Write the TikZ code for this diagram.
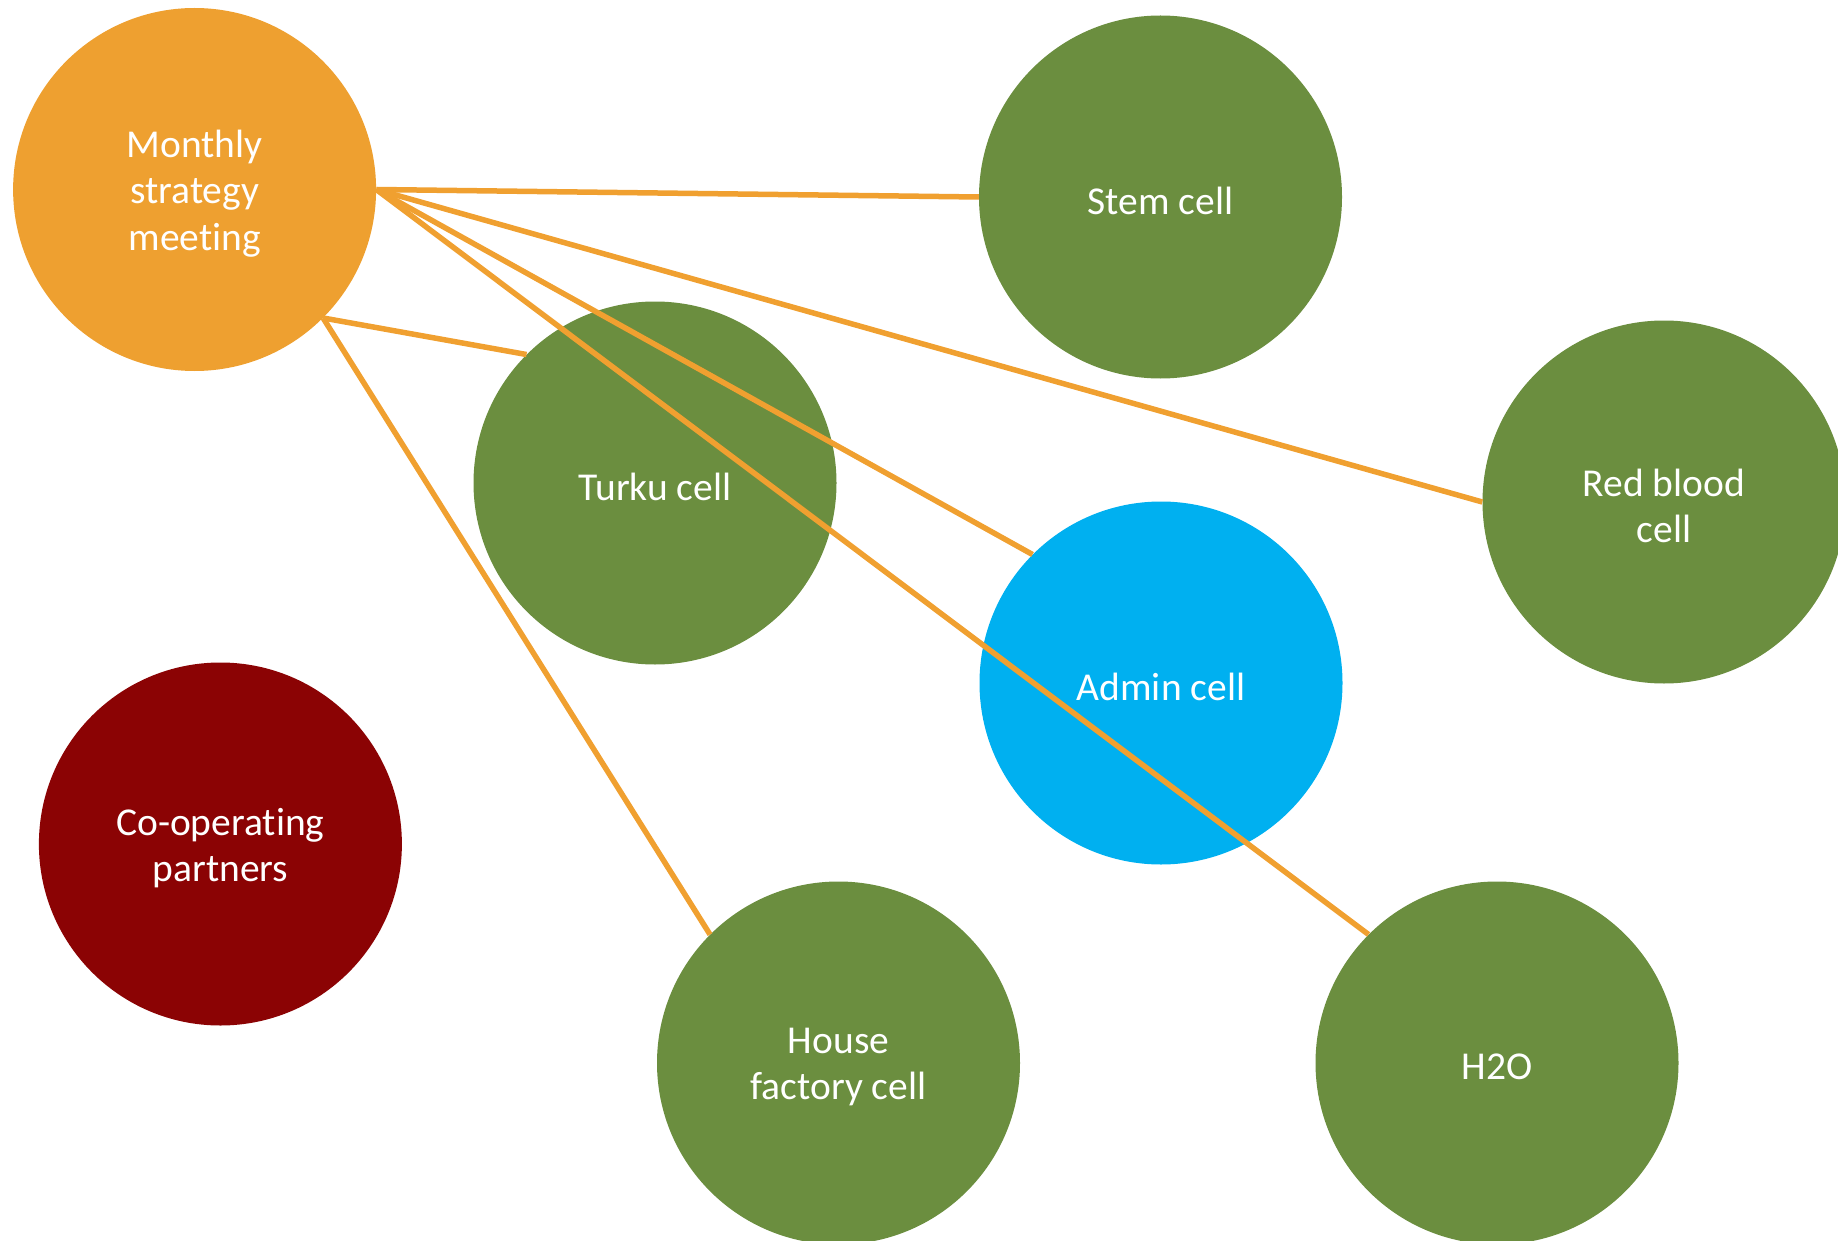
\documentclass[tikz,border=0pt]{standalone}
\usepackage{fontspec}
\setmainfont{Carlito}[Ligatures=NoCommon]
\definecolor{orangec}{HTML}{EEA030}
\definecolor{linec}{HTML}{F0A030}
\definecolor{greenc}{HTML}{6B8E3F}
\definecolor{bluec}{HTML}{00B0F0}
\definecolor{redc}{HTML}{8B0304}
\begin{document}
\begin{tikzpicture}[x=1pt,y=-1pt,
  cell/.style={circle,minimum size=363pt,inner sep=0pt},
  lbl/.style={text=white,align=center,font=\fontsize{39.5}{46.5}\selectfont},
  link/.style={draw=linec,line width=5.5pt}]
\useasboundingbox (0,0) rectangle (1838,1241);
\node[cell,fill=orangec] (mon) at (194.6,189.5) {};
\node[cell,fill=greenc] (stem) at (1160.5,197) {};
\node[cell,fill=greenc] (turku) at (655,483) {};
\node[cell,fill=greenc] (red) at (1664,502) {};
\node[cell,fill=bluec] (admin) at (1161,683) {};
\node[cell,fill=redc] (coop) at (220.4,844) {};
\node[cell,fill=greenc] (house) at (838.5,1063) {};
\node[cell,fill=greenc] (h2o) at (1497,1063) {};
\node[lbl] (tmon) at ([yshift=-4pt]mon.center) {Monthly\\strategy\\meeting};
\node[lbl] (tstem) at ([yshift=-4pt]stem.center) {Stem cell};
\node[lbl] (tturku) at ([yshift=-4pt]turku.center) {Turku cell};
\node[lbl] (tred) at ([yshift=-4pt]red.center) {Red blood\\cell};
\node[lbl] (tadmin) at ([yshift=-4pt]admin.center) {Admin cell};
\node[lbl] (tcoop) at ([yshift=-4pt]coop.center) {Co-operating\\partners};
\node[lbl] (thouse) at ([yshift=-4pt]house.center) {House\\factory cell};
\node[lbl] (th2o) at ([yshift=-4pt]h2o.center) {H2O};
\draw[link] (mon.east) -- (stem.west);
\draw[link] (mon.east) -- (red.west);
\draw[link] (mon.east) -- (admin.135);
\draw[link] (mon.east) -- (h2o.135);
\draw[link] (mon.-45) -- (turku.135);
\draw[link] (mon.-45) -- (house.135);
\end{tikzpicture}
\end{document}
